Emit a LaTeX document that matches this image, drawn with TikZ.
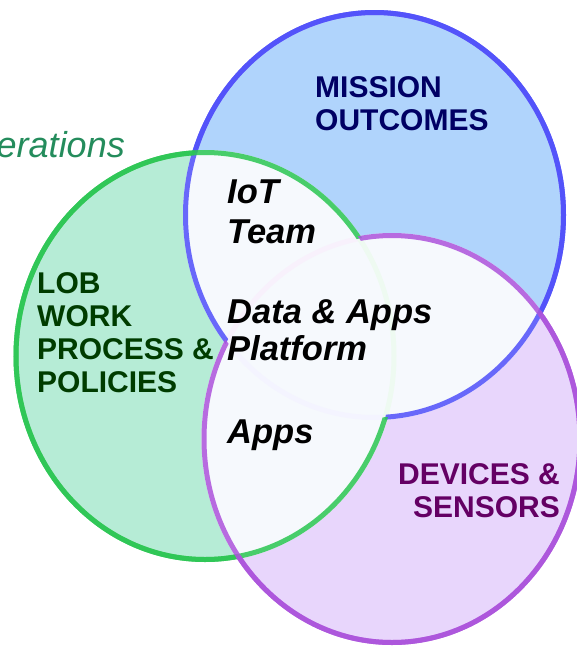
\documentclass[tikz,border=0pt]{standalone}
\usepackage{fontspec}
\setmainfont{Liberation Sans}
\definecolor{missionfill}{RGB}{176,212,252}
\definecolor{missionline}{RGB}{80,80,250}
\definecolor{missiontext}{RGB}{0,0,100}
\definecolor{lobfill}{RGB}{182,236,214}
\definecolor{lobline}{RGB}{44,198,84}
\definecolor{lobtext}{RGB}{0,60,0}
\definecolor{devfill}{RGB}{232,214,252}
\definecolor{devline}{RGB}{172,84,220}
\definecolor{devtext}{RGB}{100,0,100}
\definecolor{corefill}{RGB}{246,249,253}
\definecolor{opstext}{RGB}{36,140,92}
\newcommand{\mission}{(374.5,215) ellipse [x radius=189pt, y radius=202.5pt]}
\newcommand{\lob}{(205,356) ellipse [x radius=189pt, y radius=203.5pt]}
\newcommand{\devices}{(392,439) ellipse [x radius=188pt, y radius=203.5pt]}
\newcommand{\outside}{(-20,-20) rectangle (620,690)}

\begin{document}
\begin{tikzpicture}[x=1pt,y=-1pt,
  rim/.style={line width=5pt, draw opacity=0.85},
  head/.style={inner sep=0pt, align=left, font=\fontsize{30}{33}\selectfont\bfseries},
  core/.style={inner sep=0pt, align=left, font=\fontsize{34.5}{37}\selectfont\bfseries\itshape}]
\useasboundingbox (0,0) rectangle (577,648);

% fills
\fill[missionfill] \mission;
\fill[lobfill] \lob;
\fill[devfill] \devices;

% overlaps
\begin{scope}
  \clip \mission;
  \fill[corefill] \lob;
  \fill[corefill] \devices;
\end{scope}
\begin{scope}
  \clip \lob;
  \fill[corefill] \devices;
\end{scope}

% faint rims inside the overlaps
\draw[line width=5pt, draw=devline!8] \devices;
\draw[line width=5pt, draw=missionline!6] \mission;
\draw[line width=5pt, draw=lobline!8] \lob;

% outer rims
\foreach \shape/\col/\a/\b in {\mission/missionline/\lob/\devices,
                               \lob/lobline/\mission/\devices,
                               \devices/devline/\mission/\lob} {
  \begin{scope}[even odd rule]
    \clip \outside \a;
    \draw[rim, draw=\col] \shape;
  \end{scope}
  \begin{scope}[even odd rule]
    \clip \outside \b;
    \draw[rim, draw=\col] \shape;
  \end{scope}
}

% labels
\node[anchor=base east, inner sep=0pt, text=opstext,
      font=\fontsize{36}{40}\selectfont\itshape] (ops) at (125,157) {erations};
\node[head, anchor=base west, text=missiontext] (outcomes) at (315,130) {MISSION\\OUTCOMES};
\node[head, anchor=base west, text=lobtext] (work) at (37,392) {LOB\\WORK\\PROCESS \&\\POLICIES};
\node[head, anchor=base east, align=right, text=devtext] (sensors) at (560,517) {DEVICES \&\\SENSORS};
\node[core, anchor=base west] (team) at (227,243) {IoT\\[3pt]Team};
\node[core, anchor=base west] (platform) at (227,360) {Data \& Apps\\Platform};
\node[core, anchor=base west] (apps) at (227,443) {Apps};

\end{tikzpicture}
\end{document}
